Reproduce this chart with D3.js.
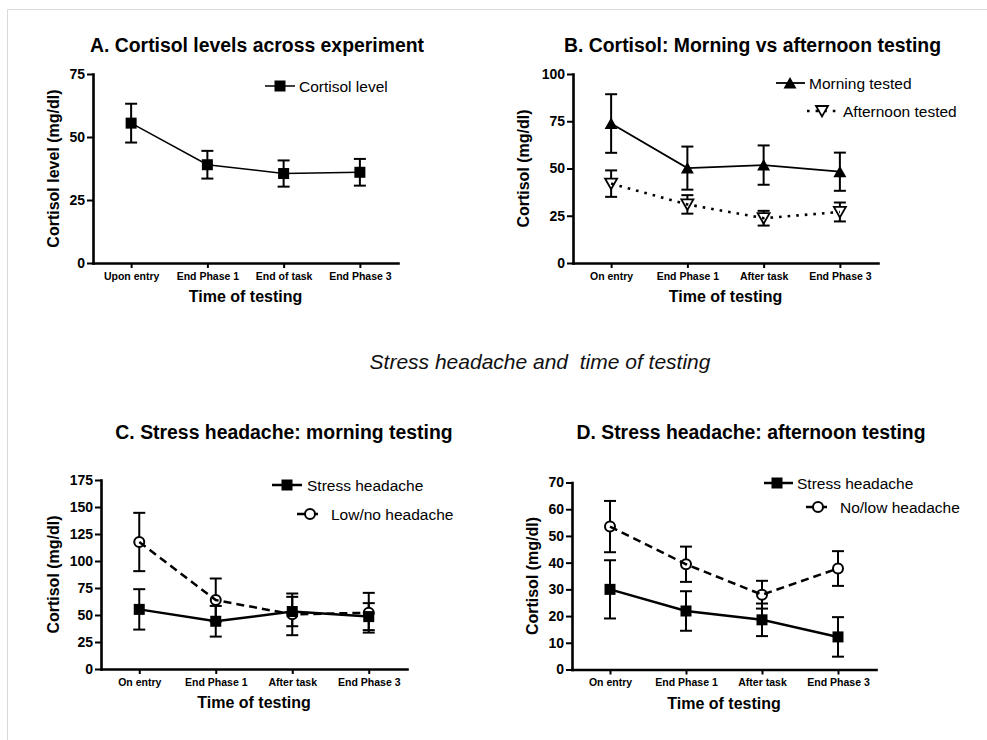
<!DOCTYPE html>
<html>
<head>
<meta charset="utf-8">
<script src="https://cdn.jsdelivr.net/npm/d3@7"></script>
<style>
  body { margin: 0; background: #fff; }
  svg { display: block; font-family: "Liberation Sans", Arial, Helvetica, sans-serif; }
</style>
</head>
<body>
<svg id="fig" width="987" height="740"></svg>
<script>
// ---- data ----
const catsA = ["Upon entry", "End Phase 1", "End of task", "End Phase 3"];
const catsBCD = ["On entry", "End Phase 1", "After task", "End Phase 3"];

const cortisolMean = [55.5, 39.0, 35.5, 36.0];
const cortisolSem  = [7.7, 5.5, 5.2, 5.3];

const morningMean   = [73.8, 50.2, 51.8, 48.3];
const morningSem    = [15.5, 11.4, 10.4, 10.1];
const afternoonMean = [42.0, 31.0, 23.7, 27.0];
const afternoonSem  = [7.0, 4.9, 3.9, 5.0];

const amHeadacheMean = [55.2, 44.2, 53.2, 48.5];
const amHeadacheSem  = [18.7, 14.2, 13.6, 12.5];
const amLowMean      = [117.6, 63.8, 50.6, 52.1];
const amLowSem       = [27.0, 20.0, 19.3, 18.4];

const pmHeadacheMean = [30.0, 21.9, 18.6, 12.2];
const pmHeadacheSem  = [10.9, 7.4, 6.1, 7.4];
const pmLowMean      = [53.5, 39.4, 28.0, 37.8];
const pmLowSem       = [9.6, 6.6, 5.2, 6.5];

const ticksA = [0, 25, 50, 75];
const ticksB = [0, 25, 50, 75, 100];
const ticksC = [0, 25, 50, 75, 100, 125, 150, 175];
const ticksD = [0, 10, 20, 30, 40, 50, 60, 70];

const figureCaption = "Stress headache and  time of testing";
const xTitle = "Time of testing";

// ---- layout ----
const panels = [
  { title: "A. Cortisol levels across experiment", titleX: 257, titleY: 52,
    cats: catsA, ticks: ticksA, yMax: 75, x0: 93, x1: 398, yTop: 74, yBot: 263,
    ylabel: "Cortisol level (mg/dl)", ylabelX: 58.5,
    series: [
      { name: "Cortisol level", mean: cortisolMean, sem: cortisolSem, marker: "square", width: 1.5, dash: null,
        leg: { x1: 265, x2: 295, mx: 280, y: 86, tx: 299 } }
    ] },
  { title: "B. Cortisol: Morning vs afternoon testing", titleX: 752.5, titleY: 52,
    cats: catsBCD, ticks: ticksB, yMax: 100, x0: 573, x1: 878, yTop: 74, yBot: 263,
    ylabel: "Cortisol (mg/dl)", ylabelX: 529,
    series: [
      { name: "Morning tested", mean: morningMean, sem: morningSem, marker: "triUp", width: 1.8, dash: null,
        leg: { x1: 776, x2: 805, mx: 790, y: 83, tx: 809 } },
      { name: "Afternoon tested", mean: afternoonMean, sem: afternoonSem, marker: "triDown", width: 2.6, dash: "2.6,6",
        leg: { x1: 807, x2: 839, mx: 822, y: 111, tx: 843 } }
    ] },
  { title: "C. Stress headache: morning testing", titleX: 284, titleY: 439,
    cats: catsBCD, ticks: ticksC, yMax: 175, x0: 101, x1: 407, yTop: 480, yBot: 669,
    ylabel: "Cortisol (mg/dl)", ylabelX: 58.5,
    series: [
      { name: "Stress headache", mean: amHeadacheMean, sem: amHeadacheSem, marker: "square", width: 2.5, dash: null,
        leg: { x1: 272, x2: 302, mx: 287, y: 485, tx: 307 } },
      { name: "Low/no headache", mean: amLowMean, sem: amLowSem, marker: "circle", width: 2.5, dash: "8,5",
        leg: { x1: 297, x2: 322, mx: 310, y: 514, tx: 331 } }
    ] },
  { title: "D. Stress headache: afternoon testing", titleX: 751, titleY: 439,
    cats: catsBCD, ticks: ticksD, yMax: 70, x0: 572, x1: 876, yTop: 482.5, yBot: 669.5,
    ylabel: "Cortisol (mg/dl)", ylabelX: 538,
    series: [
      { name: "Stress headache", mean: pmHeadacheMean, sem: pmHeadacheSem, marker: "square", width: 2.5, dash: null,
        leg: { x1: 764, x2: 793, mx: 777, y: 483, tx: 797 } },
      { name: "No/low headache", mean: pmLowMean, sem: pmLowSem, marker: "circle", width: 2.5, dash: "8,5",
        leg: { x1: 806, x2: 830, mx: 818, y: 507, tx: 840 } }
    ] }
];

const svg = d3.select("#fig");
svg.append("rect").attr("width", 987).attr("height", 740).attr("fill", "#fff");

// light frame around the figure
svg.append("path")
  .attr("d", "M7.5,740V9.5H987")
  .attr("fill", "none").attr("stroke", "#d9d9d9").attr("stroke-width", 1);

// centred italic caption between the two rows
svg.append("text")
  .attr("x", 540).attr("y", 369)
  .attr("text-anchor", "middle")
  .attr("font-size", 21).attr("font-style", "italic").attr("fill", "#111")
  .style("white-space", "pre")
  .text(figureCaption);

function drawMarker(g, kind, cx, cy) {
  if (kind === "square") {
    g.append("rect").attr("x", cx - 5.5).attr("y", cy - 5.5).attr("width", 11).attr("height", 11).attr("fill", "#000");
  } else if (kind === "circle") {
    g.append("circle").attr("cx", cx).attr("cy", cy).attr("r", 5).attr("fill", "#fff").attr("stroke", "#000").attr("stroke-width", 2);
  } else if (kind === "triUp") {
    g.append("path").attr("d", `M${cx},${cy - 6}L${cx + 6.5},${cy + 5.5}L${cx - 6.5},${cy + 5.5}Z`).attr("fill", "#000");
  } else if (kind === "triDown") {
    g.append("path").attr("d", `M${cx - 6},${cy - 5}L${cx + 6},${cy - 5}L${cx},${cy + 5.5}Z`)
      .attr("fill", "#fff").attr("stroke", "#000").attr("stroke-width", 1.8).attr("stroke-linejoin", "miter");
  }
}

panels.forEach(p => {
  const g = svg.append("g");
  const x = d3.scalePoint().domain(p.cats).range([p.x0, p.x1]).padding(0.5);
  const y = d3.scaleLinear().domain([0, p.yMax]).range([p.yBot, p.yTop]);

  // title
  g.append("text").attr("x", p.titleX).attr("y", p.titleY)
    .attr("text-anchor", "middle").attr("font-size", 19.4).attr("font-weight", "bold")
    .text(p.title);

  // axes
  const yAxis = g.append("g").attr("transform", `translate(${p.x0},0)`)
    .call(d3.axisLeft(y).tickValues(p.ticks).tickSize(6).tickSizeOuter(0).tickPadding(2));
  const xAxis = g.append("g").attr("transform", `translate(0,${p.yBot})`)
    .call(d3.axisBottom(x).tickSize(5).tickSizeOuter(0).tickPadding(4.5));
  [yAxis, xAxis].forEach(a => {
    a.attr("font-family", null);
    a.select(".domain").attr("stroke-width", 2.6).attr("stroke-linecap", "square");
    a.selectAll(".tick line").attr("stroke-width", 2);
    a.selectAll("text").attr("font-weight", "bold").attr("fill", "#000");
  });
  yAxis.selectAll("text").attr("font-size", 14);
  xAxis.selectAll("text").attr("font-size", 10.5);

  // axis titles
  g.append("text").attr("x", (p.x0 + p.x1) / 2).attr("y", p.yBot + 39)
    .attr("text-anchor", "middle").attr("font-size", 16).attr("font-weight", "bold")
    .text(xTitle);
  g.append("text")
    .attr("transform", `translate(${p.ylabelX},${(p.yTop + p.yBot) / 2}) rotate(-90)`)
    .attr("text-anchor", "middle").attr("font-size", 16).attr("font-weight", "bold")
    .text(p.ylabel);

  // error bars
  p.series.forEach(s => {
    const eb = g.append("g").attr("stroke", "#000").attr("stroke-width", 2);
    p.cats.forEach((c, i) => {
      const cx = x(c), hi = y(s.mean[i] + s.sem[i]), lo = y(s.mean[i] - s.sem[i]);
      eb.append("line").attr("x1", cx).attr("x2", cx).attr("y1", hi).attr("y2", lo);
      eb.append("line").attr("x1", cx - 6).attr("x2", cx + 6).attr("y1", hi).attr("y2", hi);
      eb.append("line").attr("x1", cx - 6).attr("x2", cx + 6).attr("y1", lo).attr("y2", lo);
    });
  });

  // markers: open symbols first so filled ones sit on top
  const order = p.series.slice().reverse();
  order.forEach(s => {
    const mg = g.append("g");
    p.cats.forEach((c, i) => drawMarker(mg, s.marker, x(c), y(s.mean[i])));
  });

  // connecting lines
  p.series.forEach(s => {
    const line = d3.line().x((d, i) => x(p.cats[i])).y(d => y(d));
    g.append("path").datum(s.mean).attr("d", line)
      .attr("fill", "none").attr("stroke", "#000").attr("stroke-width", s.width)
      .attr("stroke-dasharray", s.dash);
  });

  // legend
  p.series.forEach(s => {
    const L = s.leg;
    const lg = g.append("g");
    lg.append("line").attr("x1", L.x1).attr("x2", L.x2).attr("y1", L.y).attr("y2", L.y)
      .attr("stroke", "#000").attr("stroke-width", s.width).attr("stroke-dasharray", s.dash);
    drawMarker(lg, s.marker, L.mx, L.y);
    lg.append("text").attr("x", L.tx).attr("y", L.y + 5.5).attr("font-size", 15.5).text(s.name);
  });
});
</script>
</body>
</html>
